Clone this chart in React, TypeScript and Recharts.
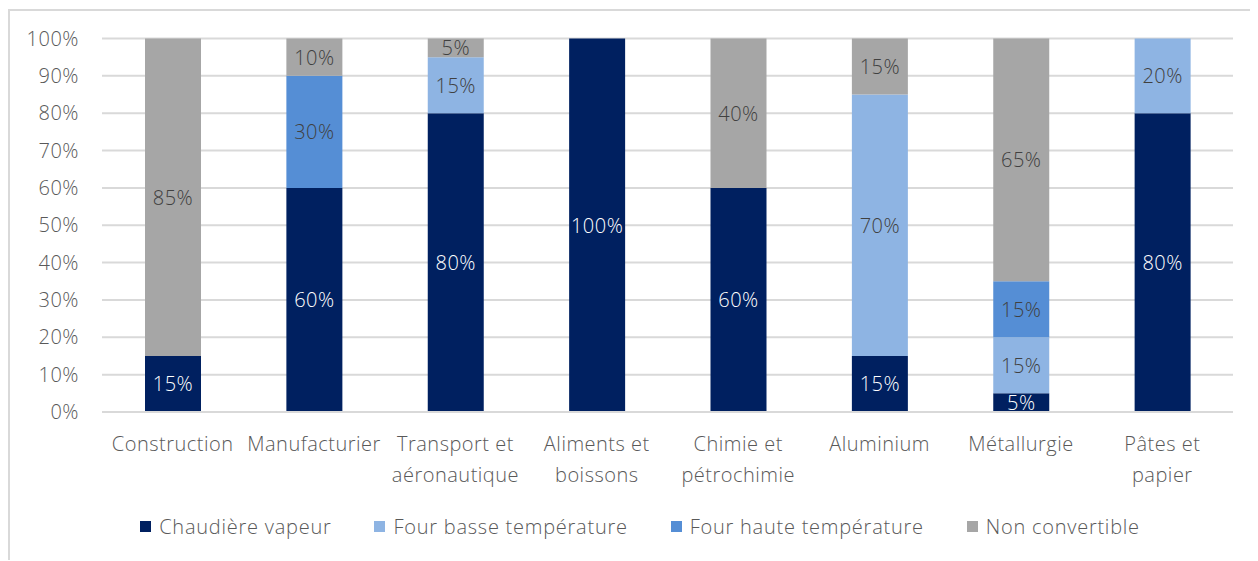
import React from "react";
import { BarChart, Bar, XAxis, YAxis, CartesianGrid, Legend, LabelList } from "recharts";

const sectors = [
  "Construction",
  "Manufacturier",
  "Transport et\naéronautique",
  "Aliments et\nboissons",
  "Chimie et\npétrochimie",
  "Aluminium",
  "Métallurgie",
  "Pâtes et\npapier",
];

const chaudiereVapeur = [15, 60, 80, 100, 60, 15, 5, 80];
const fourBasseTemp = [0, 0, 15, 0, 0, 70, 15, 20];
const fourHauteTemp = [0, 30, 0, 0, 0, 0, 15, 0];
const nonConvertible = [85, 10, 5, 0, 40, 15, 65, 0];

const percentTicks = [0, 10, 20, 30, 40, 50, 60, 70, 80, 90, 100];

const FONT = "'Open Sans', sans-serif";
const FONT_SIZE = 20;
const SPACING = 0.5;
const TEXT_GREY = "#595959";
const GRID = "#d9d9d9";

const series = [
  { key: "chaudiere", name: "Chaudière vapeur", values: chaudiereVapeur, color: "#002060", labelColor: "#ffffff" },
  { key: "basse", name: "Four basse température", values: fourBasseTemp, color: "#8eb4e3", labelColor: "#404040" },
  { key: "haute", name: "Four haute température", values: fourHauteTemp, color: "#558ed5", labelColor: "#404040" },
  { key: "nonconv", name: "Non convertible", values: nonConvertible, color: "#a6a6a6", labelColor: "#404040" },
];

const rows = sectors.map((sector, i) => {
  const row: Record<string, string | number> = { sector };
  series.forEach((s) => {
    row[s.key] = s.values[i];
  });
  return row;
});

function SectorTick(props: any) {
  const { x, y, payload } = props;
  const lines = String(payload.value).split("\n");
  return (
    <text
      x={x}
      y={y}
      textAnchor="middle"
      fill={TEXT_GREY}
      fontSize={FONT_SIZE}
      fontWeight={300}
      fontFamily={FONT}
      letterSpacing={SPACING}
    >
      {lines.map((line, i) => (
        <tspan key={i} x={x} dy={i === 0 ? 38.5 : 31.5}>
          {line}
        </tspan>
      ))}
    </text>
  );
}

function segmentLabel(color: string) {
  return (props: any) => {
    const { x, y, width, height, value } = props;
    if (!value) return null;
    return (
      <text
        x={Number(x) + Number(width) / 2}
        y={Number(y) + Number(height) / 2}
        textAnchor="middle"
        dominantBaseline="central"
        fill={color}
        fontSize={FONT_SIZE}
        fontWeight={300}
        fontFamily={FONT}
        letterSpacing={SPACING}
      >
        {`${value}%`}
      </text>
    );
  };
}

function LegendRow() {
  return (
    <div
      style={{
        height: 48,
        display: "flex",
        justifyContent: "center",
        alignItems: "center",
        paddingLeft: 25,
        fontFamily: FONT,
        fontWeight: 300,
        fontSize: FONT_SIZE,
        letterSpacing: 0.75,
        color: TEXT_GREY,
      }}
    >
      {series.map((s, i) => (
        <div key={s.key} style={{ display: "flex", alignItems: "center", marginLeft: i === 0 ? 0 : 43 }}>
          <span style={{ width: 11, height: 11, background: s.color, marginRight: 8, display: "inline-block" }} />
          <span>{s.name}</span>
        </div>
      ))}
    </div>
  );
}

export default function App() {
  return (
    <div
      style={{
        position: "relative",
        top: 1,
        width: 1248,
        height: 550,
        borderTop: `2px solid ${GRID}`,
        borderLeft: `2px solid ${GRID}`,
        background: "#ffffff",
      }}
    >
      <BarChart
        width={1248}
        height={550}
        data={rows}
        margin={{ top: 27.5, right: 25, bottom: 11, left: 12 }}
        barSize={56}
      >
        <CartesianGrid vertical={false} stroke={GRID} strokeWidth={2} />
        <XAxis
          dataKey="sector"
          interval={0}
          height={90}
          tickSize={0}
          tickMargin={0}
          axisLine={{ stroke: GRID, strokeWidth: 2 }}
          tickLine={false}
          tick={<SectorTick />}
        />
        <YAxis
          width={80}
          domain={[0, 100]}
          ticks={percentTicks}
          tickFormatter={(v) => `${v}%`}
          axisLine={false}
          tickLine={false}
          tickSize={0}
          tickMargin={23}
          tick={{ fill: TEXT_GREY, fontSize: FONT_SIZE, fontWeight: 300, fontFamily: FONT, letterSpacing: SPACING }}
        />
        <Legend verticalAlign="bottom" height={48} content={() => <LegendRow />} />
        {series.map((s) => (
          <Bar key={s.key} dataKey={s.key} name={s.name} stackId="mix" fill={s.color} isAnimationActive={false}>
            <LabelList dataKey={s.key} content={segmentLabel(s.labelColor)} />
          </Bar>
        ))}
      </BarChart>
    </div>
  );
}
